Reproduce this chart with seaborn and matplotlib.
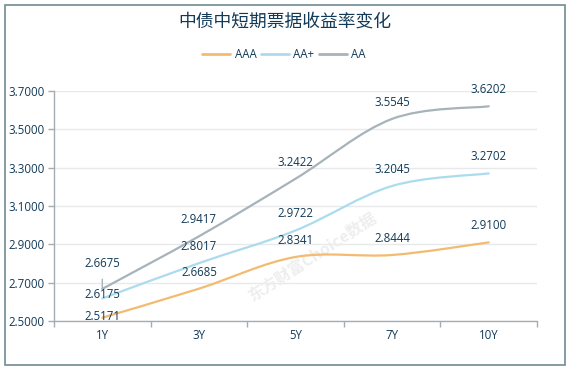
import matplotlib
matplotlib.use('Agg')
import matplotlib.pyplot as plt
import seaborn as sns
import numpy as np
import pandas as pd
from matplotlib.path import Path
from matplotlib.patches import PathPatch, Rectangle
from matplotlib.lines import Line2D

# data
tenors = ['1Y', '3Y', '5Y', '7Y', '10Y']
aaa = [2.5171, 2.6685, 2.8341, 2.8444, 2.9100]
aa_plus = [2.6175, 2.8017, 2.9722, 3.2045, 3.2702]
aa = [2.6675, 2.9417, 3.2422, 3.5545, 3.6202]
series_names = ['AAA', 'AA+', 'AA']
y_ticks = [2.5, 2.7, 2.9, 3.1, 3.3, 3.5, 3.7]

palette = {'AAA': '#f3bb70', 'AA+': '#abdcee', 'AA': '#a7b3ba'}
text_color = '#123a58'
axis_color = '#a3adb3'
latin = ['Open Sans', 'Noto Sans CJK SC', 'DejaVu Sans']

df = pd.DataFrame({
    'tenor': tenors * 3,
    'pos': list(range(len(tenors))) * 3,
    'grade': [g for g in series_names for _ in tenors],
    'value': aaa + aa_plus + aa,
})

sns.set_theme(style='white')
plt.rcParams['font.family'] = latin


def smooth_path(ax, xs, ys, k=1 / 6):
    # catmull-rom style bezier through the data points, in pixel space
    pts = ax.transData.transform(np.column_stack([xs, ys]))
    n = len(pts)
    verts = [pts[0]]
    codes = [Path.MOVETO]
    for i in range(n - 1):
        p_prev = pts[max(i - 1, 0)]
        p0 = pts[i]
        p1 = pts[i + 1]
        p_next = pts[min(i + 2, n - 1)]
        c0 = p0 + (p1 - p_prev) * k
        c1 = p1 - (p_next - p0) * k
        verts += [c0, c1, p1]
        codes += [Path.CURVE4] * 3
    verts = ax.transData.inverted().transform(np.array(verts))
    return Path(verts, codes)


fig = plt.figure(figsize=(5.71, 3.69), dpi=100)
ax = fig.add_axes([54 / 571, 1 - 321 / 369, 483 / 571, 230 / 369])

sns.lineplot(data=df, x='pos', y='value', hue='grade', hue_order=series_names,
             palette=palette, linewidth=1.6, ax=ax, legend=False)
for ln in list(ax.lines):
    ln.set_visible(False)

ax.set_xlim(-0.5, len(tenors) - 0.5)
ax.set_ylim(2.5, 3.7)

for name, vals in zip(series_names, [aaa, aa_plus, aa]):
    p = smooth_path(ax, np.arange(len(tenors)), vals)
    ax.add_patch(PathPatch(p, facecolor='none', edgecolor=palette[name],
                           lw=1.6, zorder=3, capstyle='round'))

# data labels
label_dy = {('AA', 0): 18, ('AA+', 0): 3, ('AAA', 0): 1}
for name, vals in zip(series_names, [aaa, aa_plus, aa]):
    for i, v in enumerate(vals):
        dy = label_dy.get((name, i), 12)
        kw = {}
        if (name, i) == ('AA', 0):
            kw['arrowprops'] = dict(arrowstyle='-', color=palette[name], lw=1,
                                    relpos=(0.5, 0), shrinkA=4, shrinkB=0)
        ax.annotate(f'{v:.4f}', xy=(i, v), xytext=(0, dy), textcoords='offset points',
                    ha='center', va='center', fontsize=8.3, color=text_color,
                    zorder=5, **kw)

# axes styling
ax.set_yticks(y_ticks)
ax.set_yticklabels([f'{t:.4f}' for t in y_ticks])
ax.set_xticks(np.arange(-0.5, len(tenors), 1.0))
ax.set_xticklabels([])
ax.set_xticks(np.arange(len(tenors)), minor=True)
ax.set_xticklabels(tenors, minor=True)
ax.tick_params(axis='x', which='major', length=4, width=1, color=axis_color,
               direction='out', bottom=True)
ax.tick_params(axis='x', which='minor', length=0, pad=6, labelsize=8.3,
               labelcolor=text_color)
ax.tick_params(axis='y', length=4, width=1, color=axis_color, direction='out',
               left=True, pad=3, labelsize=8.3, labelcolor=text_color)
ax.set_xlabel('')
ax.set_ylabel('')
ax.grid(axis='y', color='#e8e9ea', lw=1)
ax.grid(axis='x', visible=False)
for s in ['top', 'right']:
    ax.spines[s].set_visible(False)
for s in ['left', 'bottom']:
    ax.spines[s].set_color(axis_color)
    ax.spines[s].set_linewidth(1)

# watermark
ax.text(0.535, 0.28, '东方财富Choice数据', transform=ax.transAxes, rotation=33,
        ha='center', va='center', fontsize=11.5, fontweight='bold',
        family=['Noto Sans CJK SC', 'DejaVu Sans'], color='#eeeeee', zorder=1)

fig.text(285 / 571, 1 - 22 / 369, '中债中短期票据收益率变化', ha='center', va='center',
         fontsize=12.8, color=text_color, family=['Noto Sans CJK SC', 'DejaVu Sans'])

handles = [Line2D([], [], color=palette[n], lw=2) for n in series_names]
fig.legend(handles, series_names, loc='center', bbox_to_anchor=(284 / 571, 1 - 55 / 369),
           ncol=3, frameon=False, fontsize=8.3, handlelength=2.4, handletextpad=0.4,
           columnspacing=0.4, labelcolor=text_color)

fig.patches.append(Rectangle((5 / 571, 1 - 364.5 / 369), 560 / 571, 360 / 369,
                             transform=fig.transFigure, fill=False,
                             edgecolor='#6f8b94', lw=1.2))

fig.savefig('out.png', dpi=100)
